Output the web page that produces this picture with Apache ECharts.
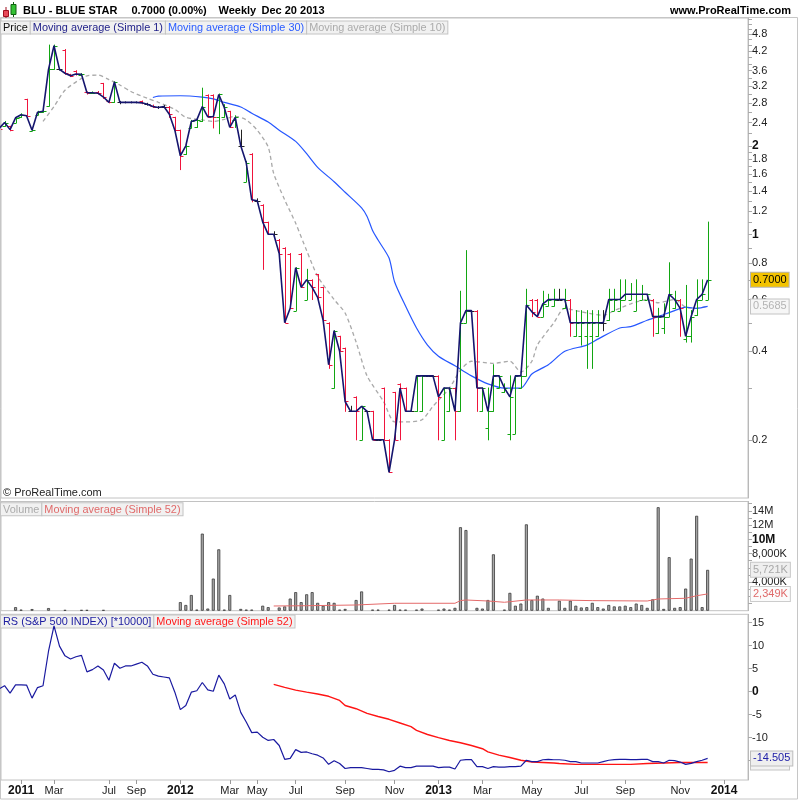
<!DOCTYPE html>
<html><head><meta charset="utf-8">
<script src="https://cdn.jsdelivr.net/npm/echarts@6/dist/echarts.min.js"></script>
<style>html,body{margin:0;padding:0;background:#fff}#c{width:800px;height:800px}</style>
</head><body><div id="c"></div>
<script>
// ---------------- DATA (weekly bars, index 0..129; last bar = Dec 20 2013) ----------------
const opens = [2.33,2.33,2.33,2.40,2.50,2.88,2.25,2.55,2.60,2.73,
 3.64,3.64,4.25,3.50,3.58,3.48,3.05,3.02,3.05,3.26,
 2.85,2.81,2.81,2.81,2.81,2.81,2.84,2.77,2.74,2.70,
 2.72,2.72,2.50,2.26,1.88,2.30,2.31,2.42,2.98,2.98,
 2.50,2.50,2.62,2.45,2.00,1.51,1.88,1.30,1.26,1.10,
 1.00,0.96,0.90,0.86,0.55,0.86,0.60,0.70,0.73,0.66,
 0.50,0.30,0.45,0.41,0.25,0.28,0.20,0.25,0.25,0.20,
 0.30,0.20,0.29,0.31,0.30,0.25,0.25,0.25,0.33,0.33,
 0.33,0.20,0.25,0.30,0.25,0.50,0.55,0.55,0.25,0.22,
 0.25,0.30,0.29,0.21,0.21,0.30,0.33,0.60,0.60,0.525,
 0.57,0.57,0.60,0.56,0.60,0.45,0.45,0.45,0.45,0.45,
 0.50,0.51,0.55,0.55,0.60,0.60,0.55,0.60,0.60,0.60,
 0.46,0.48,0.525,0.56,0.60,0.44,0.45,0.53,0.60,0.60];
const highs = [2.35,2.42,2.33,2.50,2.57,2.88,2.28,2.62,2.63,4.40,
 4.40,3.66,4.25,3.50,3.60,3.52,3.05,3.05,3.06,3.26,
 2.88,3.30,2.83,2.82,2.82,2.82,2.84,2.79,2.75,2.72,
 2.74,2.72,2.50,2.26,2.00,2.44,2.46,3.14,2.98,2.98,
 3.00,2.76,2.62,2.53,2.26,1.77,1.88,1.32,1.26,1.10,
 1.02,0.96,0.90,0.86,0.77,0.86,0.76,0.70,0.73,0.66,
 0.50,0.47,0.45,0.41,0.26,0.28,0.26,0.25,0.25,0.20,
 0.30,0.20,0.29,0.31,0.30,0.25,0.33,0.33,0.33,0.33,
 0.33,0.30,0.30,0.30,0.64,0.88,0.55,0.55,0.30,0.30,
 0.36,0.33,0.31,0.33,0.33,0.33,0.65,0.60,0.60,0.64,
 0.625,0.65,0.65,0.65,0.60,0.55,0.55,0.55,0.55,0.55,
 0.55,0.65,0.65,0.70,0.70,0.68,0.70,0.67,0.625,0.60,
 0.56,0.58,0.80,0.64,0.60,0.67,0.55,0.70,0.70,1.10];
const lows = [2.25,2.33,2.25,2.40,2.50,2.53,2.25,2.55,2.60,2.73,
 3.64,3.62,3.50,3.44,3.48,3.48,3.00,3.02,3.00,2.90,
 2.80,2.81,2.78,2.80,2.80,2.80,2.78,2.75,2.70,2.68,
 2.70,2.50,2.22,1.66,1.87,2.30,2.31,2.42,2.50,2.30,
 2.20,2.50,2.31,2.31,2.00,1.51,1.29,1.28,0.76,1.00,
 0.99,0.85,0.50,0.56,0.55,0.66,0.60,0.60,0.60,0.50,
 0.35,0.30,0.40,0.25,0.25,0.20,0.20,0.25,0.20,0.20,
 0.20,0.155,0.20,0.20,0.25,0.25,0.25,0.25,0.33,0.33,
 0.20,0.20,0.25,0.20,0.25,0.50,0.55,0.25,0.25,0.20,
 0.25,0.30,0.29,0.20,0.21,0.30,0.33,0.525,0.525,0.525,
 0.57,0.57,0.60,0.56,0.45,0.45,0.42,0.35,0.35,0.45,
 0.47,0.51,0.55,0.55,0.60,0.60,0.55,0.60,0.60,0.45,
 0.46,0.46,0.525,0.56,0.45,0.43,0.43,0.53,0.60,0.60];
const closes = [2.29,2.40,2.27,2.49,2.55,2.53,2.26,2.60,2.62,3.64,
 4.38,3.64,3.53,3.46,3.51,3.50,3.03,3.03,3.02,2.93,
 2.81,3.30,2.81,2.81,2.81,2.81,2.80,2.77,2.72,2.70,
 2.72,2.56,2.26,1.85,2.00,2.42,2.45,2.72,2.51,2.51,
 2.99,2.70,2.31,2.50,2.00,1.75,1.31,1.30,1.10,1.00,
 1.00,0.86,0.50,0.56,0.77,0.66,0.70,0.66,0.61,0.51,
 0.36,0.47,0.40,0.27,0.25,0.25,0.26,0.25,0.20,0.20,
 0.20,0.155,0.20,0.30,0.25,0.25,0.33,0.33,0.33,0.33,
 0.28,0.30,0.30,0.25,0.50,0.55,0.55,0.30,0.30,0.25,
 0.33,0.33,0.30,0.28,0.33,0.33,0.575,0.545,0.525,0.58,
 0.60,0.60,0.60,0.60,0.50,0.50,0.50,0.50,0.50,0.50,
 0.50,0.60,0.60,0.60,0.625,0.625,0.625,0.625,0.625,0.525,
 0.525,0.525,0.625,0.60,0.56,0.45,0.525,0.60,0.625,0.70];
// volume in millions of shares
const volumes = [0,0,0,0.5,0.15,0,0.23,0,0,0.37,
 0,0,0.1,0,0,0.1,0.1,0,0,0.1,
 0,0,0,0,0,0,0,0,0,0,
 0,0,0,1.2,0.8,2.2,0.15,10.8,0.3,4.5,
 8.6,0.15,2.2,0,0.25,0.15,0.15,0,0.7,0.5,
 0,0.45,0.6,1.7,2.6,1.2,2.3,2.6,1.1,0.7,
 1.2,1.1,0.15,0.25,0,1.5,2.7,0,0.15,0.15,
 0,0.15,0.8,0.15,0.15,0,0.15,0.3,0,0,
 0.15,0.3,0.15,0.4,11.7,11.3,0,0.4,0.3,1.5,
 7.9,0,0.15,2.5,0.7,1.0,12.1,1.5,2.1,1.7,
 0.4,0,1.4,0.4,1.4,0.7,0.45,0.5,1.1,0.5,
 0.3,0.8,0.6,0.6,0.7,0.5,1.0,0.8,0.4,1.6,
 14.5,0.25,7.5,0.4,0.5,3.1,7.3,13.3,0.5,5.721];
// RS vs S&P 500 index (*10000)
const rsValues = [0.6,1.3,-0.3,1.5,1.5,1.45,-1.4,0.9,1.3,8.8,
 14.3,9.9,7.8,7.1,7.6,7.9,4.3,4.8,5.6,4.7,
 2.5,6.2,5.1,5.6,5.6,6.0,6.4,5.6,3.8,3.4,
 3.2,3.0,-0.1,-3.9,-3.0,-0.1,0.2,2.0,0.4,0.1,
 3.6,1.7,-1.6,-0.7,-4.5,-6.6,-8.9,-8.8,-9.9,-10.6,
 -10.4,-11.7,-14.7,-14.5,-12.6,-13.2,-13.1,-13.5,-13.8,-14.4,
 -15.8,-15.0,-15.6,-16.7,-16.5,-16.5,-16.5,-16.7,-16.9,-16.9,
 -17.0,-17.4,-17.1,-16.2,-16.5,-16.5,-16.2,-16.2,-16.2,-16.2,
 -16.5,-16.4,-16.4,-16.8,-14.9,-14.75,-14.75,-16.3,-16.3,-16.7,
 -16.3,-16.4,-16.4,-16.3,-16.3,-16.2,-14.9,-15.2,-15.2,-14.8,
 -14.7,-14.8,-14.8,-14.9,-15.2,-15.2,-15.5,-15.5,-15.5,-15.5,
 -15.2,-14.9,-14.75,-14.7,-14.7,-14.75,-14.75,-14.7,-14.7,-15.2,
 -15.2,-15.5,-14.9,-15.0,-15.3,-15.8,-15.6,-15.2,-14.9,-14.505];
// moving averages (bar index, value)
const ma30Bars   = [28,29,33,37,39,41,44,46,49,51,54,56,58,61,63,66,67,68,69,71,72,74,76,78,80,83,86,89,92,95,97,100,103,107,109,113,115,118,120,123,125,127,129];
const ma30Values = [2.92,2.95,2.96,2.93,2.89,2.81,2.71,2.58,2.41,2.26,2.07,1.88,1.69,1.51,1.39,1.23,1.15,1.03,0.956,0.83,0.69,0.57,0.48,0.42,0.385,0.357,0.33,0.31,0.30,0.30,0.335,0.36,0.40,0.42,0.44,0.48,0.485,0.51,0.525,0.55,0.565,0.56,0.5685];
const ma10Bars   = [8,10,12,15,16,18,20,22,24,27,29,32,34,37,39,41,43,45,47,49,50,52,54,56,58,61,63,65,67,70,72,74,77,79,82,84,86,90,93,95,97,98,101,103,106,110,112,115,118,120,123,125,127,129];
const ma10Values = [2.42,2.72,3.09,3.39,3.46,3.48,3.36,3.22,3.06,2.90,2.81,2.66,2.50,2.45,2.42,2.46,2.52,2.45,2.26,1.98,1.61,1.31,1.09,0.88,0.72,0.60,0.54,0.43,0.33,0.27,0.23,0.23,0.234,0.26,0.30,0.345,0.37,0.364,0.37,0.34,0.37,0.42,0.50,0.56,0.545,0.53,0.55,0.58,0.60,0.585,0.60,0.565,0.56,0.57];
const volMaBars   = [50,56,65,72,83,84,85,89,92,96,102,108,118,120,125,127,129];
const volMaValues = [0.66,0.70,0.80,1.04,1.04,1.41,1.50,1.36,1.18,1.50,1.50,1.41,1.36,1.64,1.74,2.10,2.349];
const rsMaBars   = [50,52,54,56,58,60,62,63,65,67,69,71,73,75,76,78,80,82,84,86,88,89,91,93,95,97,99,101,102,105,108,112,115,118,121,124,127,129];
const rsMaValues = [1.6,0.95,0.35,-0.1,-0.5,-1.0,-1.9,-3.0,-3.7,-4.7,-5.4,-6.0,-6.8,-7.6,-8.4,-9.3,-10.0,-10.6,-11.1,-11.7,-12.4,-13.1,-13.8,-14.3,-14.9,-15.3,-15.4,-15.5,-15.6,-15.8,-15.8,-15.8,-15.8,-15.6,-15.5,-15.4,-15.4,-15.4];
// axis labels
const dateTickBars   = [4,10,20,25,33,42,47,54,63,72,80,88,97,106,114,124,132];
const dateTickLabels = ['2011','Mar','Jul','Sep','2012','Mar','May','Jul','Sep','Nov','2013','Mar','May','Jul','Sep','Nov','2014'];
const priceTickLabels = [4.8,4.2,3.6,3.2,2.8,2.4,2,1.8,1.6,1.4,1.2,1,0.8,0.6,0.4,0.2];
const priceTickMarks  = [5.4,5.2,5.0,4.8,4.6,4.4,4.2,4.0,3.8,3.6,3.4,3.2,3.0,2.8,2.6,2.4,2.2,2.0,1.9,1.8,1.7,1.6,1.5,1.4,1.3,1.2,1.1,1.0,0.9,0.8,0.7,0.6,0.5,0.4,0.3,0.2];
const volumeTickLabels = [4,8,10,12,14];
const volumeTickTexts  = ['4,000K','8,000K','10M','12M','14M'];
const volumeTickMarks  = [1,2,3,4,5,6,7,8,9,10,11,12,13,14,15];
const rsTickLabels = [15,10,5,0,-5,-10];
const rsTickMarks  = [15,10,5,0,-5,-10,-15];

// ---------------- CHART ----------------
const FONT = '"Liberation Sans", Arial, Helvetica, sans-serif';
const GREEN = '#12a612', RED = '#f0143c';
const LOG = v => Math.log10(v);
const N = closes.length;
const X_MIN = 0.35, X_MAX = 136.35;
const GRID_L = 1, GRID_R = 52;
const LEGEND_FONT = '10.9px ' + FONT;

const measureCtx = document.createElement('canvas').getContext('2d');
function textWidth(t, font) { measureCtx.font = font; return measureCtx.measureText(t).width; }

function valueBox(value, text, color, bg, border, extra) {
  return {
    silent: true, animation: false, symbol: ['none', 'none'], precision: 6,
    lineStyle: { width: 0, color: 'rgba(0,0,0,0)' },
    emphasis: { disabled: true },
    data: [{ yAxis: value }],
    label: Object.assign({
      show: true, position: 'end', distance: 3, formatter: text,
      color: color, backgroundColor: bg, borderColor: border, borderWidth: 1,
      padding: [2, 2, 1, 2], fontSize: 11, fontFamily: FONT, lineHeight: 11
    }, extra || {})
  };
}

const ohlcData = closes.map((c, i) => [i, LOG(opens[i]), LOG(highs[i]), LOG(lows[i]), LOG(c)]);

function renderOHLC(params, api) {
  const i = api.value(0);
  const o = api.value(1), h = api.value(2), l = api.value(3), c = api.value(4);
  const po = api.coord([i, o]), ph = api.coord([i, h]), pl = api.coord([i, l]), pc = api.coord([i, c]);
  const x = Math.round(po[0]) + 0.5;
  const color = c > o + 1e-9 ? GREEN : (c < o - 1e-9 ? RED : '#222');
  const yo = Math.round(po[1]) + 0.5, yc = Math.round(pc[1]) + 0.5;
  return {
    type: 'group',
    children: [
      { type: 'line', shape: { x1: x, y1: ph[1] - 0.5, x2: x, y2: pl[1] + 0.5 }, style: { stroke: color, lineWidth: 1 } },
      { type: 'line', shape: { x1: x - 3, y1: yo, x2: x, y2: yo }, style: { stroke: color, lineWidth: 1 } },
      { type: 'line', shape: { x1: x, y1: yc, x2: x + 3, y2: yc }, style: { stroke: color, lineWidth: 1 } }
    ]
  };
}

// a row of legend boxes, each following the previous one
function legendRow(x, y, items) {
  const out = [];
  let cx = x;
  items.forEach(function (it) {
    out.push({
      type: 'text', x: cx, y: y, silent: true,
      style: {
        text: it[0], fill: it[1], font: LEGEND_FONT, lineHeight: 11,
        backgroundColor: '#f1f1f1', borderColor: '#c4c4c4', borderWidth: 1,
        padding: [1, 2, 0, 2], verticalAlign: 'top', textVerticalAlign: 'top'
      }
    });
    cx += textWidth(it[0], LEGEND_FONT) + 5;
  });
  return out;
}
function plainText(x, y, text, font, color, align) {
  return {
    type: 'text', x: x, y: y, silent: true,
    style: { text: text, font: font, fill: color, align: align || 'left', textAlign: align || 'left', verticalAlign: 'middle', textVerticalAlign: 'middle' }
  };
}

const xBase = (gi) => ({
  type: 'value', gridIndex: gi, min: X_MIN, max: X_MAX,
  axisLine: { show: false, onZero: false }, axisTick: { show: false }, axisLabel: { show: false }, splitLine: { show: false }
});

const yCommon = {
  position: 'right',
  axisLine: { show: true, onZero: false, lineStyle: { color: '#b8b8b8' } },
  splitLine: { show: false },
};

const option = {
  animation: false,
  textStyle: { fontFamily: FONT },
  grid: [
    { left: GRID_L, right: GRID_R, top: 18, height: 480, show: true, borderColor: '#c2c2c2', borderWidth: 1 },
    { left: GRID_L, right: GRID_R, top: 501.5, height: 109.2, show: true, borderColor: '#c2c2c2', borderWidth: 1 },
    { left: GRID_L, right: GRID_R, top: 614.3, height: 165.7, show: true, borderColor: '#c2c2c2', borderWidth: 1 }
  ],
  xAxis: [
    xBase(0), xBase(1),
    Object.assign(xBase(2), {
      position: 'bottom',
      axisTick: { show: true, customValues: dateTickBars, length: 4, lineStyle: { color: '#999' } },
      axisLabel: {
        show: true, customValues: dateTickBars, margin: 5, fontSize: 11, color: '#222',
        formatter: function (v) {
          const k = dateTickBars.indexOf(Math.round(v));
          const t = k >= 0 ? dateTickLabels[k] : '';
          return /^\d{4}$/.test(t) ? '{y|' + t + '}' : t;
        },
        rich: { y: { fontWeight: 'bold', fontSize: 12, color: '#111', fontFamily: FONT } }
      }
    })
  ],
  yAxis: [
    Object.assign({}, yCommon, {
      type: 'value', gridIndex: 0, min: -0.8969, max: 0.7357,
      axisTick: { show: true, customValues: priceTickMarks.map(LOG), length: 4, lineStyle: { color: '#aaa' } },
      axisLabel: {
        customValues: priceTickLabels.map(LOG), margin: 4, fontSize: 11, color: '#222',
        formatter: function (v) {
          const s = String(Math.round(Math.pow(10, v) * 10) / 10);
          return (s === '1' || s === '2') ? '{b|' + s + '}' : s;
        },
        rich: { b: { fontWeight: 'bold', fontSize: 12, color: '#111', fontFamily: FONT } }
      }
    }),
    Object.assign({}, yCommon, {
      type: 'value', gridIndex: 1, min: 0, max: 15.3,
      axisTick: { show: true, customValues: volumeTickMarks, length: 4, lineStyle: { color: '#aaa' } },
      axisLabel: {
        customValues: volumeTickLabels, margin: 4, fontSize: 11, color: '#222',
        formatter: function (v) {
          const k = volumeTickLabels.indexOf(Math.round(v));
          const t = k >= 0 ? volumeTickTexts[k] : '';
          return t === '10M' ? '{b|10M}' : t;
        },
        rich: { b: { fontWeight: 'bold', fontSize: 12, color: '#111', fontFamily: FONT } }
      }
    }),
    Object.assign({}, yCommon, {
      type: 'value', gridIndex: 2, min: -19.2, max: 16.83,
      axisTick: { show: true, customValues: rsTickMarks, length: 4, lineStyle: { color: '#aaa' } },
      axisLabel: {
        customValues: rsTickLabels, margin: 4, fontSize: 11, color: '#222',
        formatter: function (v) { return v === 0 ? '{b|0}' : String(v); },
        rich: { b: { fontWeight: 'bold', fontSize: 12, color: '#111', fontFamily: FONT } }
      }
    })
  ],
  series: [
    {
      type: 'line', name: 'MA10', xAxisIndex: 0, yAxisIndex: 0, silent: true, z: 2,
      data: ma10Bars.map((b, k) => [b, LOG(ma10Values[k])]),
      symbol: 'none', smooth: 0.25,
      lineStyle: { color: '#a9a9a9', width: 1.3, type: [4, 3] }
    },
    {
      type: 'line', name: 'MA30', xAxisIndex: 0, yAxisIndex: 0, silent: true, z: 3,
      data: ma30Bars.map((b, k) => [b, LOG(ma30Values[k])]),
      symbol: 'none', smooth: 0.25,
      lineStyle: { color: '#2657ff', width: 1.2 },
      markLine: valueBox(LOG(ma30Values[ma30Values.length - 1]), ma30Values[ma30Values.length - 1].toFixed(4), '#b4b4b4', '#f6f6f6', '#c4c4c4')
    },
    {
      type: 'custom', name: 'Price', xAxisIndex: 0, yAxisIndex: 0, silent: true, z: 4, clip: true,
      data: ohlcData, encode: { x: 0, y: [1, 2, 3, 4] },
      renderItem: renderOHLC
    },
    {
      type: 'line', name: 'Close', xAxisIndex: 0, yAxisIndex: 0, silent: true, z: 5,
      data: closes.map((c, i) => [i, LOG(c)]),
      symbol: 'none',
      lineStyle: { color: '#15156e', width: 1.6 },
      markLine: valueBox(LOG(closes[N - 1]), closes[N - 1].toFixed(4), '#000', '#f3c300', '#b4b4b4')
    },
    {
      type: 'bar', name: 'Volume', xAxisIndex: 1, yAxisIndex: 1, silent: true, z: 2,
      data: volumes.map((v, i) => [i, v]).filter(d => d[1] > 0),
      barWidth: 3,
      itemStyle: { color: '#a8a8a8', borderColor: '#3a3a3a', borderWidth: 0.8 },
      markLine: valueBox(volumes[N - 1], Math.round(volumes[N - 1] * 1000).toLocaleString('en-US') + 'K', '#a8a8a8', '#efefef', '#c8c8c8')
    },
    {
      type: 'line', name: 'VolMA', xAxisIndex: 1, yAxisIndex: 1, silent: true, z: 3,
      data: volMaBars.map((b, k) => [b, volMaValues[k]]),
      symbol: 'none',
      lineStyle: { color: '#e46a6a', width: 1 },
      markLine: valueBox(volMaValues[volMaValues.length - 1], Math.round(volMaValues[volMaValues.length - 1] * 1000).toLocaleString('en-US') + 'K', '#e06a6a', '#fbfbfb', '#cccccc')
    },
    {
      type: 'line', name: 'RSMA', xAxisIndex: 2, yAxisIndex: 2, silent: true, z: 2,
      data: rsMaBars.map((b, k) => [b, rsMaValues[k]]),
      symbol: 'none',
      lineStyle: { color: '#ff1414', width: 1.4 },
      markLine: valueBox(rsMaValues[rsMaValues.length - 1], ' ', '#ff1414', '#f3f3f3', '#c4c4c4', { width: 34, height: 11 })
    },
    {
      type: 'line', name: 'RS', xAxisIndex: 2, yAxisIndex: 2, silent: true, z: 3,
      data: rsValues.map((v, i) => [i, v]),
      symbol: 'none',
      lineStyle: { color: '#1a1aa0', width: 1.2 },
      markLine: valueBox(rsValues[N - 1], rsValues[N - 1].toFixed(3), '#2020a8', '#efefef', '#bdbdbd')
    }
  ],
  graphic: {
    elements: [
      // frame
      { type: 'rect', silent: true, shape: { x: 0.5, y: 17.5, width: 797, height: 781.5 }, style: { fill: 'none', stroke: '#c6c6c6', lineWidth: 1 } },
      // title icon
      { type: 'line', silent: true, shape: { x1: 6, y1: 7, x2: 6, y2: 18 }, style: { stroke: '#a01020', lineWidth: 1 } },
      { type: 'rect', silent: true, shape: { x: 3.5, y: 10.5, width: 5, height: 6 }, style: { fill: '#e84a5a', stroke: '#a01020', lineWidth: 1 } },
      { type: 'line', silent: true, shape: { x1: 13.5, y1: 2, x2: 13.5, y2: 17 }, style: { stroke: '#106010', lineWidth: 1 } },
      { type: 'rect', silent: true, shape: { x: 11, y: 4.5, width: 5, height: 10 }, style: { fill: '#34c234', stroke: '#106010', lineWidth: 1 } },
      // title texts
      plainText(23, 10.5, 'BLU - BLUE STAR', 'bold 11px ' + FONT, '#000'),
      plainText(131.5, 10.5, '0.7000 (0.00%)', 'bold 11px ' + FONT, '#000'),
      plainText(218.5, 10.5, 'Weekly', 'bold 11px ' + FONT, '#000'),
      plainText(261.5, 10.5, 'Dec 20 2013', 'bold 11px ' + FONT, '#000'),
      plainText(791, 10.5, 'www.ProRealTime.com', 'bold 11px ' + FONT, '#000', 'right'),
      plainText(3, 492.7, '\u00A9 ProRealTime.com', '11px ' + FONT, '#222')
    ].concat(
      legendRow(1, 21.5, [['Price', '#111'], ['Moving average (Simple 1)', '#23238a'], ['Moving average (Simple 30)', '#2a5cff'], ['Moving average (Simple 10)', '#ababab']]),
      legendRow(1, 503.3, [['Volume', '#ababab'], ['Moving average (Simple 52)', '#e06a6a']]),
      legendRow(1, 615.5, [['RS (S&P 500 INDEX) [*10000]', '#1c1ca0'], ['Moving average (Simple 52)', '#ff1a1a']])
    )
  }
};

const chart = echarts.init(document.getElementById('c'), null, { renderer: 'canvas', width: 800, height: 800 });
chart.setOption(option);
</script>
</body></html>
